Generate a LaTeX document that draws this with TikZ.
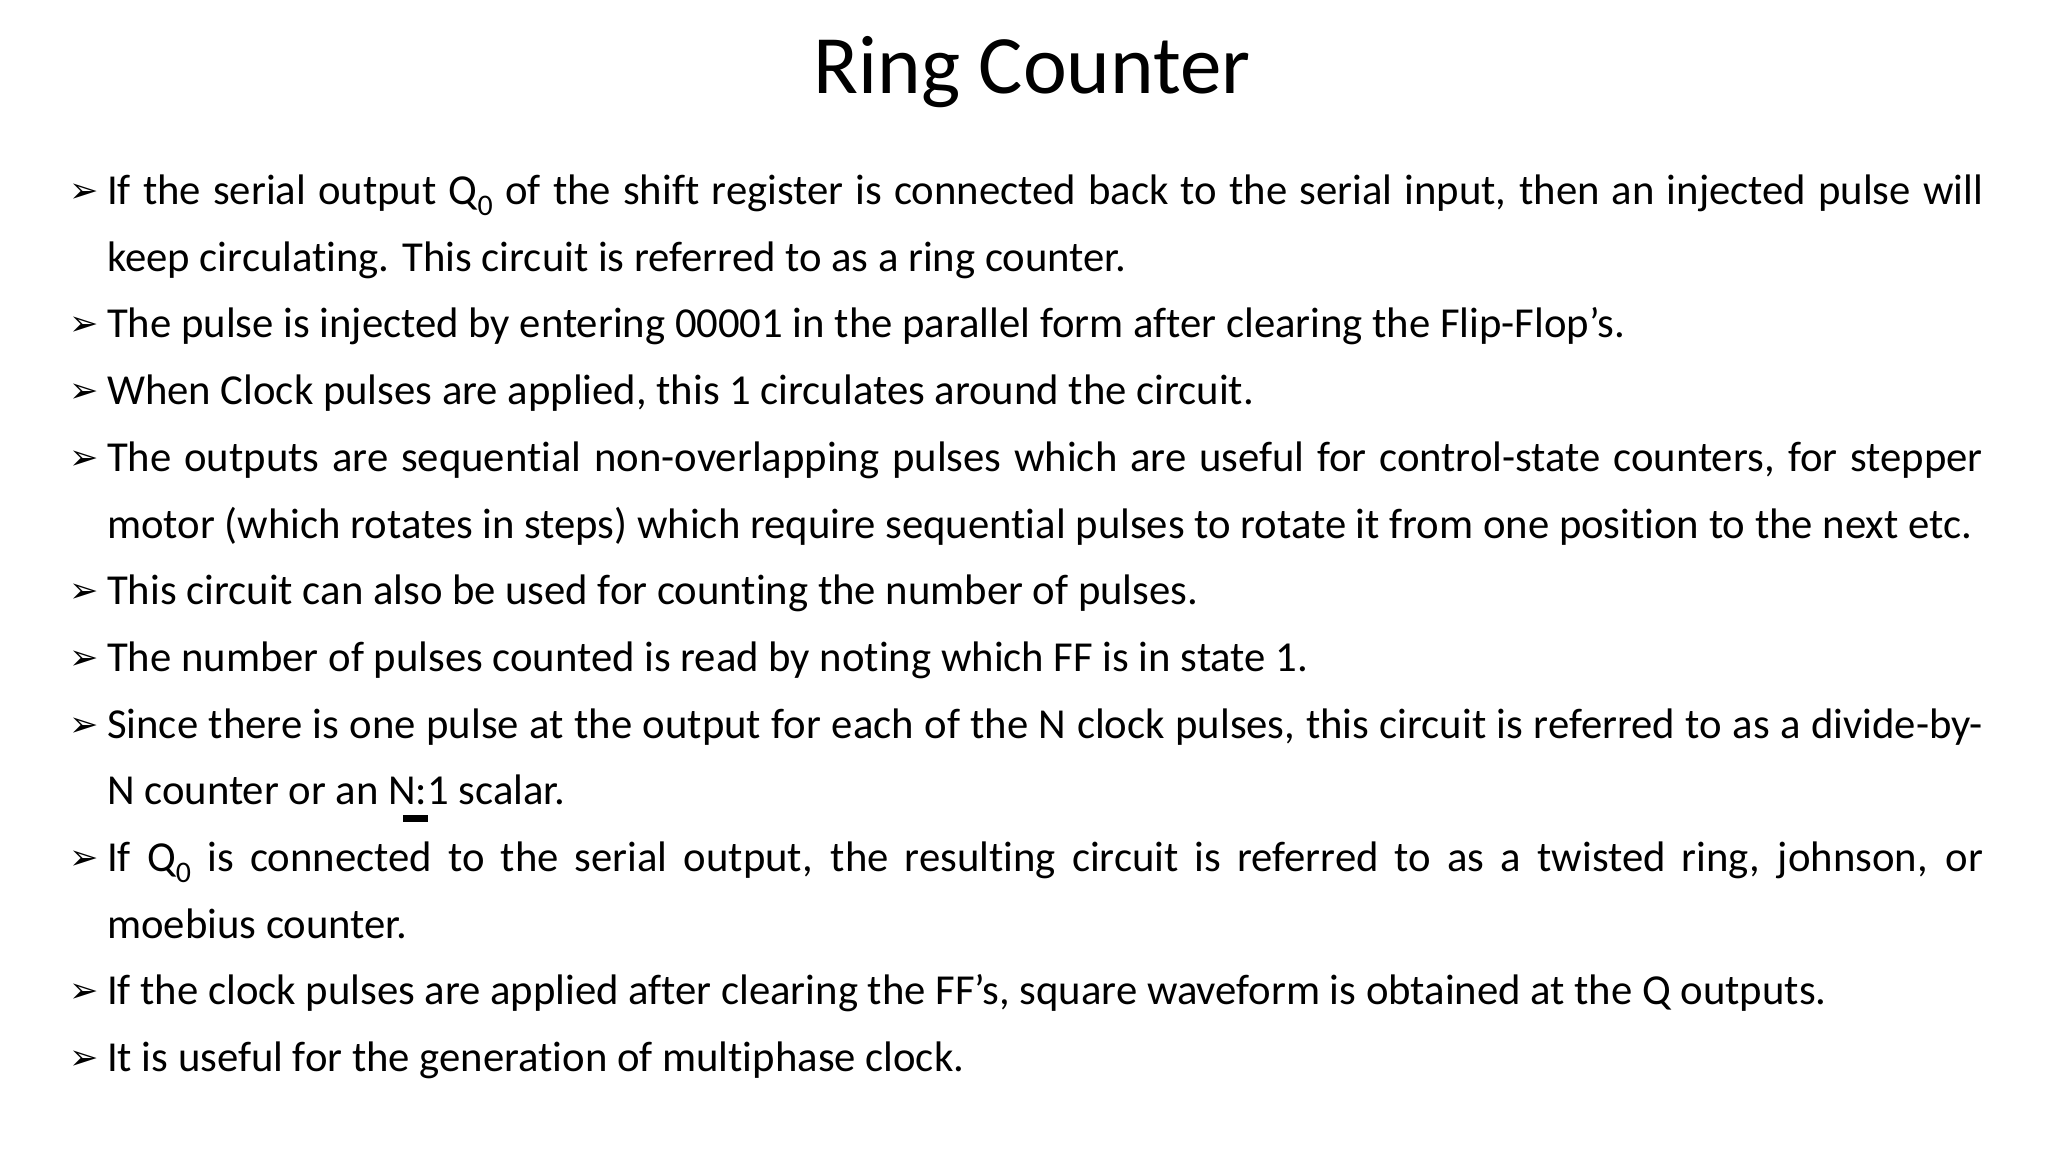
\documentclass[tikz,border=0pt]{standalone}
\usepackage{fontspec}
\setmainfont[Ligatures=NoCommon]{Carlito}
\newfontfamily\dejavu{DejaVu Sans}
\tikzset{x=1pt,y=1pt,
 body/.style={anchor=north west,inner sep=0pt,text width=1911pt,align=justify,font=\fontsize{42.7}{66.7}\selectfont},
 title/.style={inner sep=0pt,font=\fontsize{83}{95}\selectfont}}
\newcommand{\bul}[1]{\par\hangindent=35pt\hangafter=1\noindent\makebox[35pt][l]{\hspace{-3pt}\dejavu\fontsize{35}{35}\selectfont\raisebox{2pt}{➢}}#1}
\begin{document}
\begin{tikzpicture}
\useasboundingbox (0,0) rectangle (2048,-1152);
\node[title] (t) at (1032,-72) {Ring Counter};
\node[body] (b) at (72,-91) {\strut\bul{If the serial output Q\textsubscript{0} of the shift register is connected back to the serial input, then an injected pulse will keep circulating. This circuit is referred to as a ring counter.}
\bul{The pulse is injected by entering 00001 in the parallel form after clearing the Flip-Flop’s.}
\bul{When Clock pulses are applied, this 1 circulates around the circuit.}
\bul{The outputs are sequential non-overlapping pulses which are useful for control-state counters, for stepper motor (which rotates in steps) which require sequential pulses to rotate it from one position to the next etc.}
\bul{This circuit can also be used for counting the number of pulses.}
\bul{The number of pulses counted is read by noting which FF is in state 1.}
\bul{Since there is one pulse at the output for each of the N clock pulses, this circuit is referred to as a divide-by-\linebreak N counter or an N:1 scalar.}
\bul{If Q\textsubscript{0} is connected to the serial output, the resulting circuit is referred to as a twisted ring, johnson, or\linebreak moebius counter.}
\bul{If the clock pulses are applied after clearing the FF’s, square waveform is obtained at the Q outputs.}
\bul{It is useful for the generation of multiphase clock.}};
\fill (403,-815) rectangle (428,-822);
\end{tikzpicture}
\end{document}
